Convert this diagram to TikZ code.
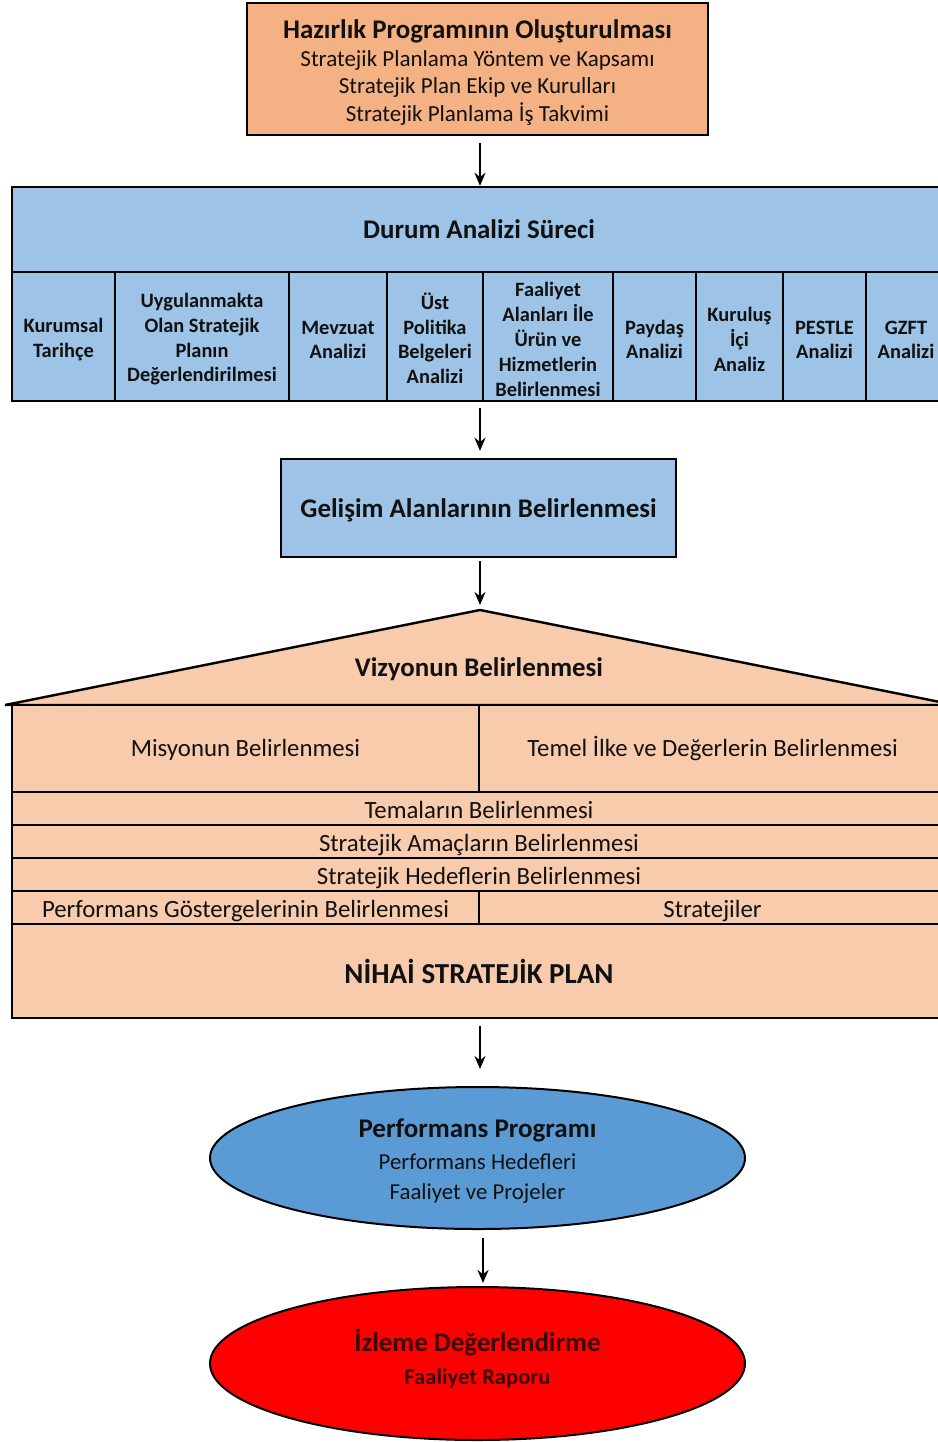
\documentclass[tikz,border=0pt]{standalone}
\usepackage{fontspec}
\setmainfont{Carlito}
\usetikzlibrary{arrows.meta,shapes.geometric}
\definecolor{orangebox}{HTML}{F4B183}
\definecolor{bluebox}{HTML}{9DC3E6}
\definecolor{peach}{HTML}{F8CBAD}
\definecolor{ellblue}{HTML}{5B9BD5}
\definecolor{ellred}{HTML}{FF0000}
\definecolor{darktxt}{HTML}{3A0606}
\definecolor{txt}{HTML}{111111}
\newcommand\colstrut{\rule{0pt}{10pt}}
\begin{document}
\begin{tikzpicture}[x=0.5pt,y=-0.5pt,
  box/.style={draw=black, line width=1.2pt, inner sep=0pt, align=center, text=txt},
  col/.style={box, fill=bluebox, minimum height=64.5pt, font=\fontsize{10.2}{12.4}\selectfont\bfseries},
  row/.style={box, fill=peach, minimum height=16.5pt, text height=11pt, text depth=0.6pt, font=\fontsize{12.4}{14}\selectfont},
  oval/.style={ellipse, draw=black, line width=1pt, inner sep=0pt, align=center, minimum width=267.5pt},
  arr/.style={-{Stealth[length=6.5pt,width=5.5pt]}, line width=1.1pt},
]
\useasboundingbox (0,0) rectangle (938,1442);
\coordinate (apex) at (480,610);
\coordinate (ax5) at (483,1250);

% top box
\node[box, fill=orangebox, minimum width=230.5pt, minimum height=66pt,
      font=\fontsize{11.5}{13.75}\selectfont] (hz) at (477.5,69)
  {{\fontsize{13.45}{14}\selectfont\bfseries\rule{0pt}{13pt}Hazırlık Programının Oluşturulması}\\
   Stratejik Planlama Yöntem ve Kapsamı\\
   Stratejik Plan Ekip ve Kurulları\\
   Stratejik Planlama İş Takvimi};

% durum analizi
\node[box, fill=bluebox, minimum width=467pt, minimum height=42.5pt,
      font=\fontsize{13.45}{15}\selectfont\bfseries] (dur) at (479,229.5) {Durum Analizi Süreci};
\node[col, minimum width=51.5pt] (c1) at (63.5,336.5) {\colstrut Kurumsal\\Tarihçe};
\node[col, minimum width=87pt] (c2) at (202,336.5) {\colstrut Uygulanmakta\\Olan Stratejik\\Planın\\Değerlendirilmesi};
\node[col, minimum width=49pt] (c3) at (338,336.5) {\colstrut Mevzuat\\Analizi};
\node[col, minimum width=48pt] (c4) at (435,336.5) {\colstrut Üst\\Politika\\Belgeleri\\Analizi};
\node[col, minimum width=65pt] (c5) at (548,336.5) {\colstrut Faaliyet\\Alanları İle\\Ürün ve\\Hizmetlerin\\Belirlenmesi};
\node[col, minimum width=41.5pt] (c6) at (654.5,336.5) {\colstrut Paydaş\\Analizi};
\node[col, minimum width=43.5pt] (c7) at (739.5,336.5) {\colstrut Kuruluş\\İçi\\Analiz};
\node[col, minimum width=41.5pt] (c8) at (824.5,336.5) {\colstrut PESTLE\\Analizi};
\node[col, minimum width=40pt] (c9) at (906,336.5) {\colstrut GZFT\\Analizi};

% gelisim
\node[box, fill=bluebox, minimum width=197.5pt, minimum height=49pt, text height=10pt, text depth=1pt,
      font=\fontsize{13.45}{15}\selectfont\bfseries] (gel) at (478.5,508) {Gelişim Alanlarının Belirlenmesi};

% roof
\draw[line width=1.2pt, fill=peach] (5,705) -- (apex) -- (955,705) -- cycle;
\node[font=\fontsize{13.45}{15}\selectfont\bfseries, text=txt] (viz) at (479,669) {Vizyonun Belirlenmesi};

% body
\node[row, minimum width=233.5pt, minimum height=43.5pt, text height=10pt, text depth=1.8pt] (mis) at (245.5,748.5) {Misyonun Belirlenmesi};
\node[row, minimum width=233.5pt, minimum height=43.5pt, text height=10pt, text depth=1.8pt] (tem) at (712.5,748.5) {Temel İlke ve Değerlerin Belirlenmesi};
\node[row, minimum width=467pt] (tema) at (479,808.5) {Temaların Belirlenmesi};
\node[row, minimum width=467pt] (ama) at (479,841.5) {Stratejik Amaçların Belirlenmesi};
\node[row, minimum width=467pt] (hed) at (479,874.5) {Stratejik Hedeflerin Belirlenmesi};
\node[row, minimum width=233.5pt] (per) at (245.5,907.5) {Performans Göstergelerinin Belirlenmesi};
\node[row, minimum width=233.5pt] (str) at (712.5,907.5) {Stratejiler};
\node[box, fill=peach, minimum width=467pt, minimum height=47pt, font=\fontsize{14.5}{16}\selectfont\bfseries] (nih) at (479,971) {NİHAİ STRATEJİK PLAN};

% ellipses
\node[oval, fill=ellblue, minimum height=71pt, text=txt, font=\fontsize{11.4}{15}\selectfont] (pp) at (477.5,1158)
  {{\fontsize{13.5}{14}\selectfont\bfseries\rule{0pt}{12.5pt}Performans Programı}\\[1pt]
   Performans Hedefleri\\
   Faaliyet ve Projeler};
\node[oval, fill=ellred, minimum height=76.5pt, text=darktxt, font=\fontsize{11.3}{16.5}\selectfont\bfseries] (iz) at (477.5,1363.5)
  {{\fontsize{13.45}{14}\selectfont İzleme Değerlendirme}\\
   Faaliyet Raporu\rule[-6.5pt]{0pt}{1pt}};

% arrows
\draw[arr, shorten <=3.5pt] (hz.south -| apex) -- (dur.north -| apex);
\draw[arr, shorten <=3pt, shorten >=3.5pt] (c5.south -| apex) -- (gel.north -| apex);
\draw[arr, shorten <=1.5pt, shorten >=2.5pt] (gel.south -| apex) -- (apex);
\draw[arr, shorten <=3.5pt, shorten >=8.5pt] (nih.south -| apex) -- (pp.north -| apex);
\draw[arr, shorten <=4pt, shorten >=1.5pt] (pp.south -| ax5) -- (iz.north -| ax5);
\end{tikzpicture}
\end{document}
